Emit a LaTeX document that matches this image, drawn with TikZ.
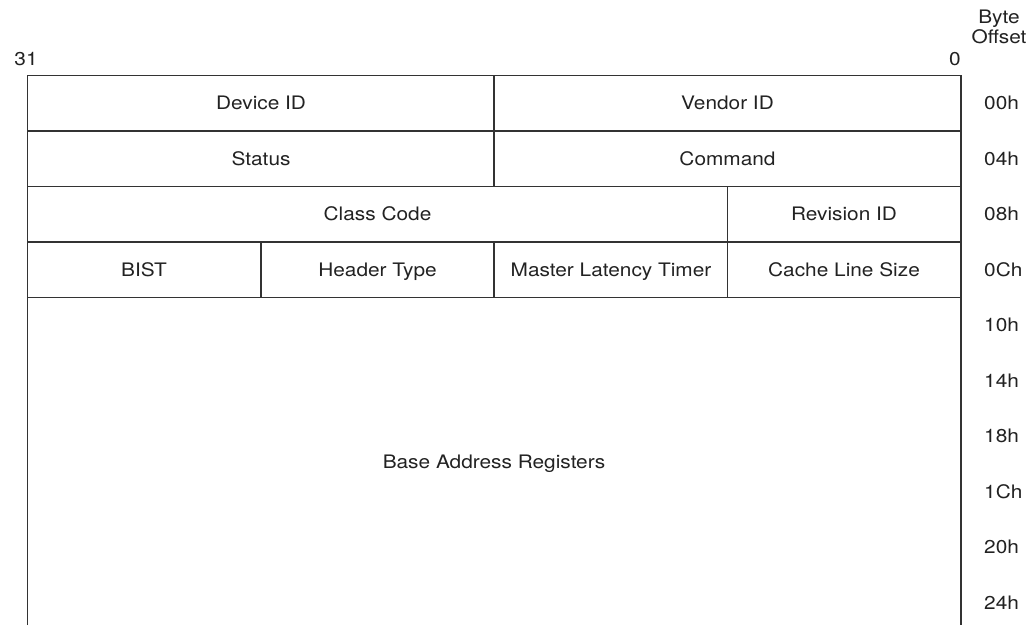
\documentclass[tikz,border=0pt]{standalone}
\usepackage{fontspec}
\setmainfont[FakeStretch=1.12]{TeX Gyre Heros}
\usepackage{xcolor}
\definecolor{regline}{HTML}{333333}
\definecolor{regtext}{HTML}{222222}
\usetikzlibrary{positioning,calc}

\begin{document}
\begin{tikzpicture}[x=1pt, y=-1pt,
		regfield/.style={font=\fontsize{18.6}{20.5}\selectfont, text=regtext, inner sep=0pt,
			text height=13.3pt, text depth=0pt},
		offs/.style={regfield, anchor=west},
		grid/.style={draw=regline, line width=1.6pt}]
				\useasboundingbox (0,0) rectangle (1030,625);
				% frame and row lines
				\draw[grid] (27.5,625) -- (27.5,75.5) -- (961,75.5) -- (961,625);
				\draw[grid] (27.5,131) -- (961,131);
				\draw[grid] (27.5,186.5) -- (961,186.5);
				\draw[grid] (27.5,242) -- (961,242);
				\draw[grid] (27.5,297.5) -- (961,297.5);
				\draw[grid] (494,75.5) -- (494,186.5);
				\draw[grid] (727.5,186.5) -- (727.5,297.5);
				\draw[grid] (494,242) -- (494,297.5);
				\draw[grid] (261,242) -- (261,297.5);
				% bit numbers
				\node [regfield] (b31) at (26,59) {31};
				\node [regfield] (b0) at (955,59) {0};
				\node [regfield, align=center, text height=, text depth=] (hdr) at (999,27) {Byte\\Offset};
				% fields
				\node [regfield] (devid) at (261,103.25) {Device ID};
				\node [regfield] (vendid) at (727.5,103.25) {Vendor ID};
				\node [regfield] (status) at (261,158.75) {Status};
				\node [regfield] (cmd) at (727.5,158.75) {Command};
				\node [regfield] (class) at (377.5,214.25) {Class Code};
				\node [regfield] (revid) at (844,214.25) {Revision ID};
				\node [regfield] (bist) at (144,269.75) {BIST};
				\node [regfield] (htype) at (377.5,269.75) {Header Type};
				\node [regfield] (mlt) at (611,269.75) {Master Latency Timer};
				\node [regfield] (cls) at (844,269.75) {Cache Line Size};
				\node [regfield] (bar) at (494,462) {Base Address Registers};
				% offsets
				\foreach \o [count=\i from 0] in {00h,04h,08h,0Ch,10h,14h,18h,1Ch,20h,24h}
					\node [offs] (off\i) at (984,103.25+55.5*\i) {\o};
			\end{tikzpicture}
\end{document}
